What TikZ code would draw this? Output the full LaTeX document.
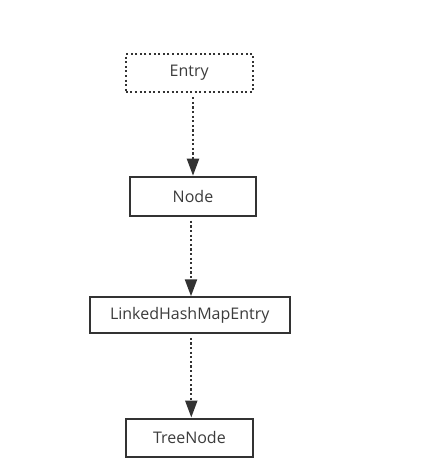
\documentclass[tikz,border=0pt]{standalone}
\usepackage{fontspec}
\setmainfont{Open Sans}
\usepackage{tikz}
\usetikzlibrary{arrows.meta}
\definecolor{figline}{RGB}{51,51,51}
\definecolor{figtext}{RGB}{60,60,60}
\tikzset{
  cls/.style  ={draw=figline, line width=2pt, fill=white, text=figtext,
                font=\fontsize{16}{19}\selectfont, inner sep=0pt},
  clsd/.style ={cls, dash pattern=on 2pt off 2.6pt},
  inh/.style  ={draw=figline, line width=2.2pt, dash pattern=on 2.2pt off 2.4pt,
                -{Triangle[length=17pt,width=12pt]}, shorten <=4pt},
}
\begin{document}
\begin{tikzpicture}[x=1pt,y=-1pt]
  \useasboundingbox (0,0) rectangle (437,464);
  \node[clsd,minimum width=127pt,minimum height=38pt] (entry) at (189.2,73.2) {Entry};
  \node[cls,minimum width=126pt,minimum height=39pt] (nd) at (193,196.2) {Node};
  \node[cls,minimum width=200pt,minimum height=35.5pt] (lhme) at (189.7,315) {LinkedHashMapEntry};
  \node[cls,minimum width=127pt,minimum height=38pt] (tree) at (189.4,437.5) {TreeNode};
  % inheritance arrows
  \draw[inh] (entry.south -| nd.north) -- (nd.north);
  \draw[inh] (nd.south -| 191,0) -- (lhme.north -| 191,0);
  \draw[inh] (lhme.south -| 191.3,0) -- (tree.north -| 191.3,0);
\end{tikzpicture}
\end{document}
